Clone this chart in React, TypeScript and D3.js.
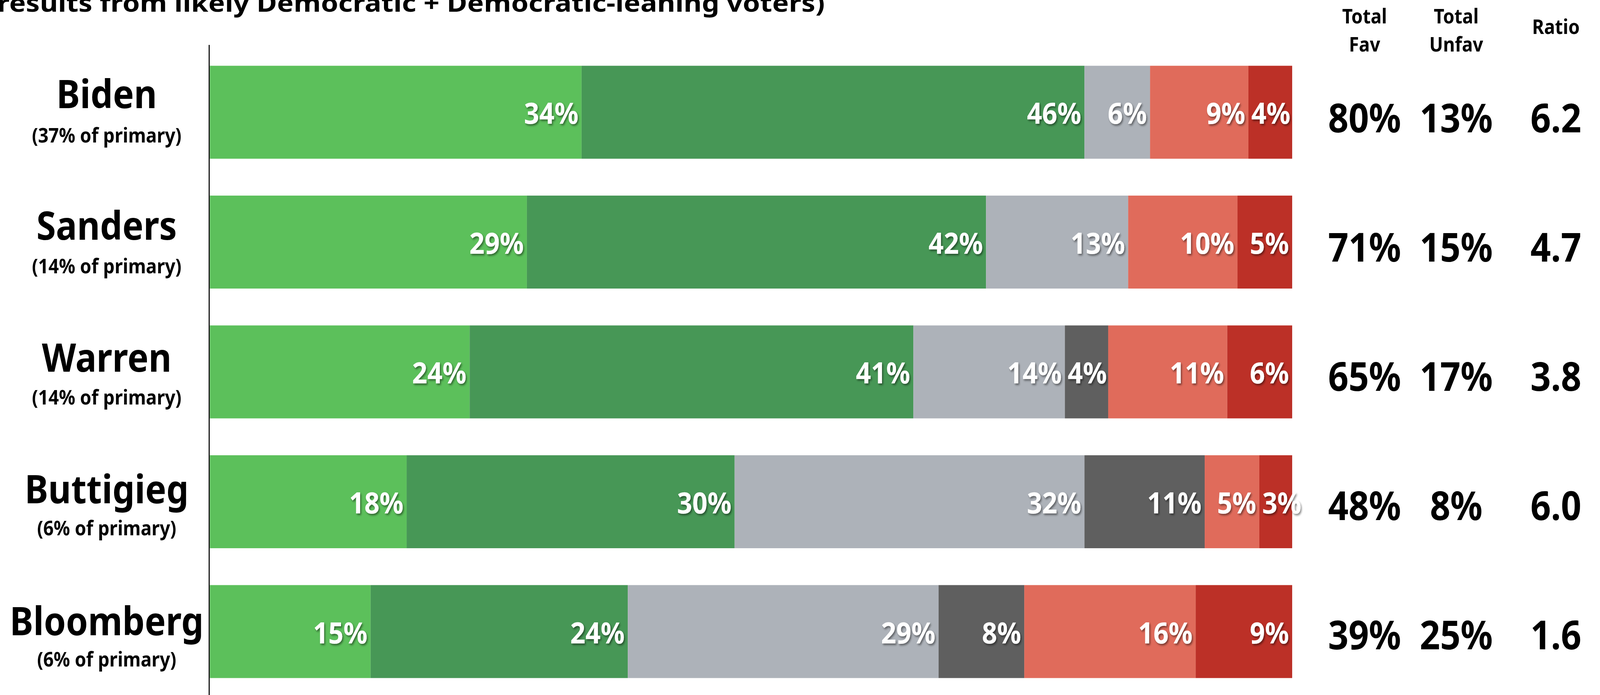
import React from "react";
import * as d3 from "d3";

// ---------- data ----------
const candidates = ["Biden", "Sanders", "Warren", "Buttigieg", "Bloomberg"];
const primaryShare = [37, 14, 14, 6, 6];
const seriesKeys = ["veryFav", "someFav", "noOpinion", "neverHeard", "someUnfav", "veryUnfav"];
const veryFav = [34, 29, 24, 18, 15];
const someFav = [46, 42, 41, 30, 24];
const noOpinion = [6, 13, 14, 32, 29];
const neverHeard = [0, 0, 4, 11, 8];
const someUnfav = [9, 10, 11, 5, 16];
const veryUnfav = [4, 5, 6, 3, 9];
const totalFav = [80, 71, 65, 48, 39];
const totalUnfav = [13, 15, 17, 8, 25];
const ratio = [6.2, 4.7, 3.8, 6.0, 1.6];
const columnHeaders = [["Total", "Fav"], ["Total", "Unfav"], ["Ratio"]];
const titleText = "results from likely Democratic + Democratic-leaning voters)";

const seriesColors = ["#5CC05B", "#479756", "#ADB2B9", "#5F5F5F", "#E06B5B", "#BC3027"];

// ---------- layout ----------
const W = 4574;
const H = 1780;
const FONT = "'Noto Sans', 'Open Sans', sans-serif";
const barLeft = 600;
const barRight = 3694;

const rows = candidates.map((name, i) => ({
  name,
  veryFav: veryFav[i],
  someFav: someFav[i],
  noOpinion: noOpinion[i],
  neverHeard: neverHeard[i],
  someUnfav: someUnfav[i],
  veryUnfav: veryUnfav[i],
}));

const stacked = d3.stack<any>().keys(seriesKeys)(rows);

const y = d3.scaleBand<string>().domain(candidates).range([74, 1831]).padding(0.284);
const nameY = d3.scalePoint<string>().domain(candidates).range([277, 1627]);
const subY = d3.scalePoint<string>().domain(candidates).range([365, 1707]);
const valY = d3.scalePoint<string>().domain(candidates).range([339, 1663]);
const colX = d3.scaleOrdinal<number, number>().domain([0, 1, 2]).range([3901, 4163, 4448]);

const labelFont = 76;
function estWidth(s: string, fs: number) {
  let w = 0;
  for (const ch of s) w += ch === "%" ? 0.885 : ch === "." ? 0.3 : 0.572;
  return w * fs;
}

export default function App() {
  const totals = rows.map((_, i) => d3.sum(stacked, (s) => s[i][1] - s[i][0]));
  const xFor = (i: number) => d3.scaleLinear().domain([0, totals[i]]).range([barLeft, barRight]);

  return (
    <svg
      viewBox={`0 0 ${W} ${H}`}
      preserveAspectRatio="none"
      style={{ position: "absolute", left: 0, top: 0, width: "100vw", height: "100vh", display: "block", background: "#fff" }}
      fontFamily={FONT}
    >
      <defs>
        <filter id="shadow" x="-20%" y="-20%" width="140%" height="160%">
          <feDropShadow dx="3" dy="4" stdDeviation="2.5" floodColor="#000" floodOpacity="0.45" />
        </filter>
      </defs>
      <rect width={W} height={H} fill="#fff" />

      {/* title (clipped at top) */}
      <text x={-8} y={30} fontSize={62} fontWeight={700} fill="#000" textLength={2366} lengthAdjust="spacingAndGlyphs">
        {titleText}
      </text>

      {/* bars */}
      {stacked.map((s, si) => (
        <g key={seriesKeys[si]}>
          {s.map((d, i) => {
            const x = xFor(i);
            const v = d[1] - d[0];
            if (v <= 0) return null;
            return (
              <rect
                key={candidates[i]}
                x={x(d[0])}
                y={y(candidates[i])!}
                width={x(d[1]) - x(d[0])}
                height={y.bandwidth()}
                fill={seriesColors[si]}
              />
            );
          })}
        </g>
      ))}

      {/* bar value labels */}
      {stacked.map((s, si) => (
        <g key={"lab" + seriesKeys[si]} filter="url(#shadow)">
          {s.map((d, i) => {
            const x = xFor(i);
            const v = d[1] - d[0];
            if (v <= 0) return null;
            const txt = `${v}%`;
            const x0 = x(d[0]);
            const x1 = x(d[1]);
            const tw = estWidth(txt, labelFont);
            const fits = tw + 18 <= x1 - x0;
            const cy = y(candidates[i])! + y.bandwidth() / 2;
            return (
              <text
                key={candidates[i]}
                x={fits ? x1 - 9 : x0 + 8}
                y={cy + 30}
                textAnchor={fits ? "end" : "start"}
                fontSize={labelFont}
                fontWeight={700}
                fill="#fff"
              >
                {txt}
              </text>
            );
          })}
        </g>
      ))}

      {/* axis line */}
      <line x1={598} x2={598} y1={115} y2={H} stroke="#000" strokeWidth={3} />

      {/* candidate labels */}
      {candidates.map((c, i) => (
        <g key={"name" + c}>
          <text x={305} y={nameY(c)} textAnchor="middle" fontSize={101} fontWeight={700} fill="#000">
            {c}
          </text>
          <text x={305} y={subY(c)} textAnchor="middle" fontSize={52} fontWeight={700} fill="#000">
            {`(${primaryShare[i]}% of primary)`}
          </text>
        </g>
      ))}

      {/* column headers */}
      {columnHeaders.map((lines, ci) =>
        lines.length === 2 ? (
          <g key={"hdr" + ci} fontSize={52} fontWeight={700} fill="#000" textAnchor="middle">
            <text x={colX(ci)} y={60}>{lines[0]}</text>
            <text x={colX(ci)} y={132}>{lines[1]}</text>
          </g>
        ) : (
          <text key={"hdr" + ci} x={colX(ci)} y={87} fontSize={52} fontWeight={700} fill="#000" textAnchor="middle">
            {lines[0]}
          </text>
        )
      )}

      {/* totals */}
      {candidates.map((c, i) => (
        <g key={"tot" + c} fontSize={102} fontWeight={700} fill="#000" textAnchor="middle">
          <text x={colX(0)} y={valY(c)}>{`${totalFav[i]}%`}</text>
          <text x={colX(1)} y={valY(c)}>{`${totalUnfav[i]}%`}</text>
          <text x={colX(2)} y={valY(c)}>{d3.format(".1f")(ratio[i])}</text>
        </g>
      ))}
    </svg>
  );
}
